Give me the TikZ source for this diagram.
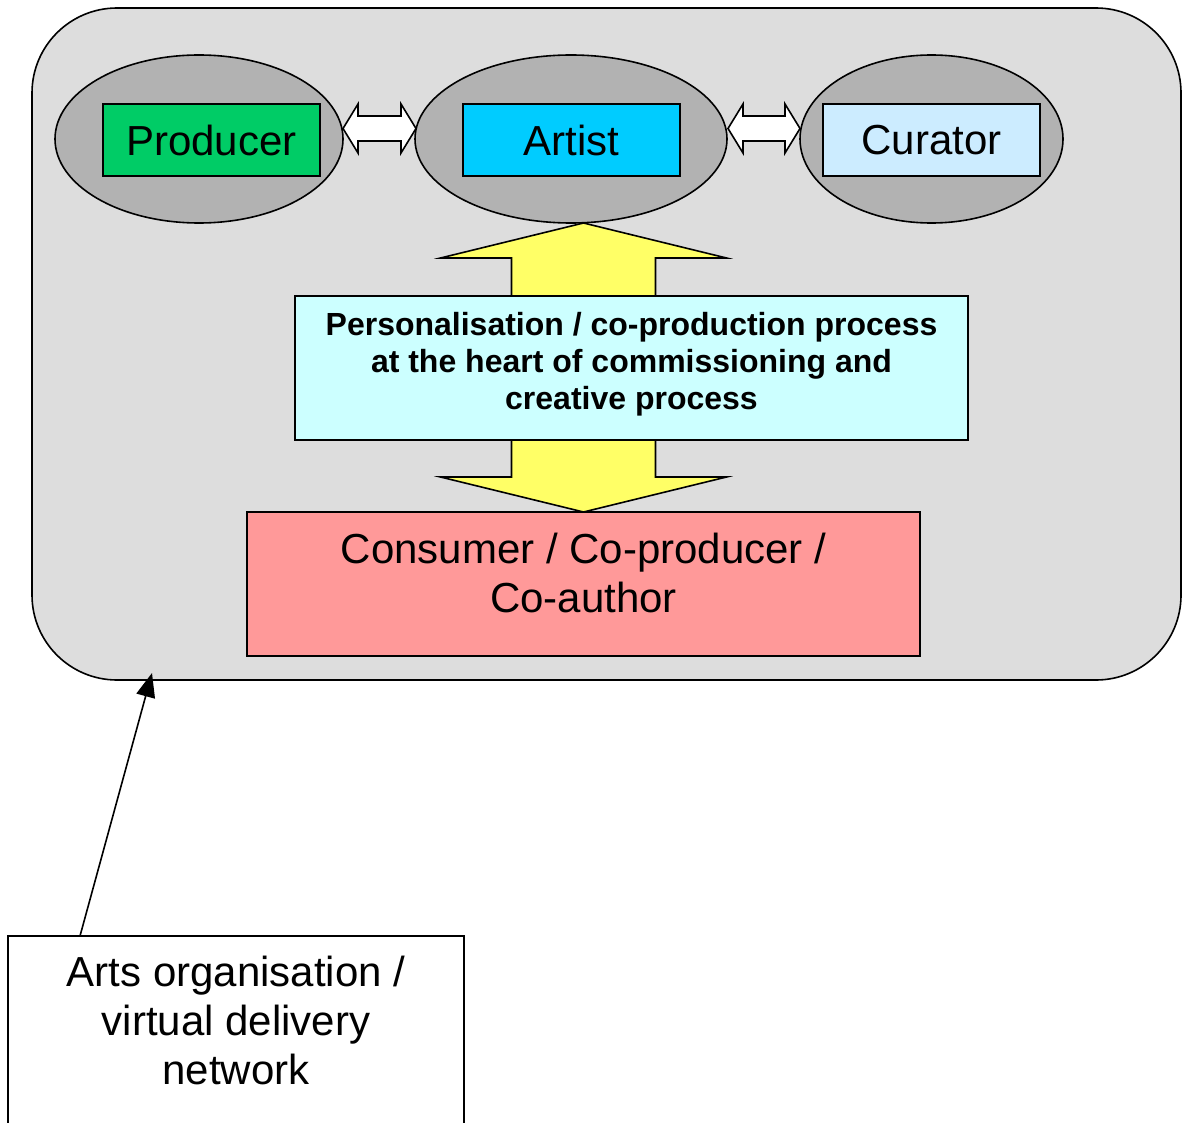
\documentclass[tikz,border=0pt]{standalone}
\usepackage{fontspec}
\setmainfont{Liberation Sans}
\usetikzlibrary{shapes.geometric,arrows.meta,calc}
\definecolor{bggray}{HTML}{DDDDDD}
\definecolor{ellgray}{HTML}{B2B2B2}
\definecolor{prodgreen}{HTML}{00CC66}
\definecolor{artblue}{HTML}{00CCFF}
\definecolor{curblue}{HTML}{CCECFF}
\definecolor{procyan}{HTML}{CCFFFF}
\definecolor{arryellow}{HTML}{FFFF66}
\definecolor{conspink}{HTML}{FF9999}
\newcommand\DblArr[2]{%
  \draw[dblarrow] (#1) -- ($(#1)+(15,-24.5)$) -- ($(#1)+(15,-12.5)$) -- ($(#2)+(-15,-12.5)$) -- ($(#2)+(-15,-24.5)$) -- (#2)
    -- ($(#2)+(-15,24.5)$) -- ($(#2)+(-15,12.5)$) -- ($(#1)+(15,12.5)$) -- ($(#1)+(15,24.5)$) -- cycle;}
\begin{document}
\begin{tikzpicture}[x=1pt,y=-1pt,
  every node/.style={inner sep=0pt, outer sep=0pt},
  outline/.style={draw=black, line width=1.6pt},
  roleell/.style={outline, ellipse, fill=ellgray, minimum height=168pt},
  rolebox/.style={outline, rectangle, minimum width=217pt, minimum height=72pt, font=\fontsize{42pt}{49pt}\selectfont},
  bigbox/.style={outline, rectangle, minimum width=673pt, minimum height=144pt},
  bigtext/.style={align=center, font=\fontsize{42pt}{49pt}\selectfont},
  dblarrow/.style={outline, fill=white, line join=miter},
  yelarrow/.style={outline, fill=arryellow, line join=miter}]
\useasboundingbox (0,0) rectangle (1182,1123);
% outer rounded frame
\draw[outline, fill=bggray, rounded corners=85pt] (32,8) rectangle (1181,680);
\coordinate (frameTip) at (152,673);
% ellipses
\node[roleell, minimum width=288pt] (prodEll) at (199,139) {};
\node[roleell, minimum width=312pt] (artEll) at (571,139) {};
\node[roleell, minimum width=263pt] (curEll) at (931.5,139) {};
% role boxes
\node[rolebox, fill=prodgreen] (prod) at (211.5,140) {Producer};
\node[rolebox, fill=artblue] (art) at (571.5,140) {Artist};
\node[rolebox, fill=curblue] (cur) at (931.5,140) {Curator};
% double arrows
\coordinate (d1a) at (343,128.5);
\coordinate (d1b) at (416,128.5);
\coordinate (d2a) at (728,128.5);
\coordinate (d2b) at (800,128.5);
\DblArr{d1a}{d1b}
\DblArr{d2a}{d2b}
% consumer box
\node[bigbox, fill=conspink] (cons) at (583.5,584) {};
\node[bigtext] (consText) at ($(cons.center)+(0,-11.5)$) {Consumer / Co-producer /\\Co-author};
% yellow double arrow
\coordinate (yT) at (cons.north |- artEll.south);
\coordinate (yB) at (cons.north);
\draw[yelarrow] (yT) -- ($(yT)+(143,35)$) -- ($(yT)+(72,35)$) -- ($(yB)+(72,-35)$) -- ($(yB)+(143,-35)$) -- (yB)
  -- ($(yB)+(-143,-35)$) -- ($(yB)+(-72,-35)$) -- ($(yT)+(-72,35)$) -- ($(yT)+(-143,35)$) -- cycle;
% process box
\node[bigbox, fill=procyan] (proc) at (631.5,368) {};
\node[align=center, font=\fontsize{32pt}{37pt}\selectfont\bfseries] (procText) at ($(proc.center)+(0,-4)$)
  {Personalisation / co-production process\\at the heart of commissioning and\\creative process};
% arts organisation box
\node[outline, fill=white, rectangle, minimum width=456pt, minimum height=220pt, anchor=north] (org) at (236,936) {};
\node[bigtext] (orgText) at ($(org.north)+(0,84)$) {Arts organisation /\\virtual delivery\\network};
\coordinate (orgStart) at ($(org.north west)+(72,0)$);
\draw[line width=1.6pt, -{Triangle[length=24pt,width=19pt]}] (orgStart) -- (frameTip);
\end{tikzpicture}
\end{document}
